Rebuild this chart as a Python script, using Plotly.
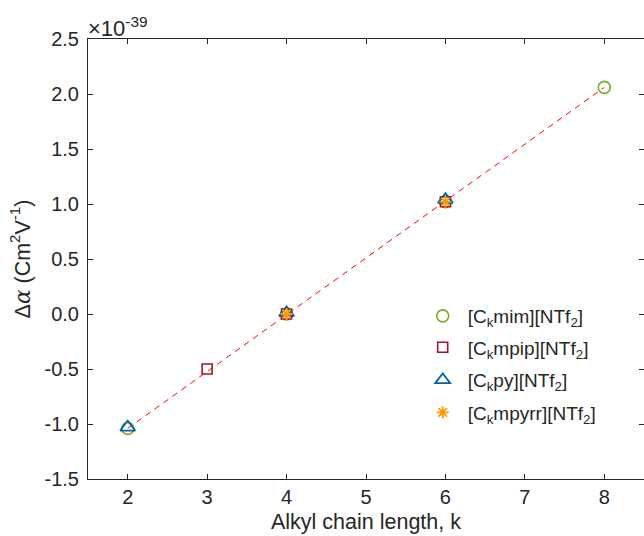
import plotly.graph_objects as go

# Data (units of 1e-39 C m^2 V^-1)
mim_k = [2, 4, 6, 8]
mim_y = [-1.04, 0.0, 1.02, 2.06]
mpip_k = [3, 4, 6]
mpip_y = [-0.50, 0.0, 1.02]
py_k = [2, 4, 6]
py_y = [-1.03, 0.01, 1.04]
mpyrr_k = [4, 6]
mpyrr_y = [0.0, 1.02]
fit_k = [2, 8]
fit_y = [-1.04, 2.06]

x_ticks = [2, 3, 4, 5, 6, 7, 8]
y_ticks = [-1.5, -1.0, -0.5, 0.0, 0.5, 1.0, 1.5, 2.0, 2.5]
y_ticktext = ["-1.5", "-1.0", "-0.5", "0.0", "0.5", "1.0", "1.5", "2.0", "2.5"]

names = ["[C<sub>k</sub>mim][NTf<sub>2</sub>]",
         "[C<sub>k</sub>mpip][NTf<sub>2</sub>]",
         "[C<sub>k</sub>py][NTf<sub>2</sub>]",
         "[C<sub>k</sub>mpyrr][NTf<sub>2</sub>]"]

AX = "#262626"
FONT = "Liberation Sans, Arial, sans-serif"

fig = go.Figure()
fig.add_trace(go.Scatter(x=fit_k, y=fit_y, mode="lines",
                         line=dict(color="#FF0000", dash="6px,5px", width=1),
                         showlegend=False, hoverinfo="skip"))
fig.add_trace(go.Scatter(x=mim_k, y=mim_y, mode="markers", name=names[0],
                         marker=dict(symbol="circle-open", size=12, color="#77AC30",
                                     line=dict(width=1.6)),
                         legend="legend"))
fig.add_trace(go.Scatter(x=mpip_k, y=mpip_y, mode="markers", name=names[1],
                         marker=dict(symbol="square-open", size=10, color="#A2142F",
                                     line=dict(width=1.6)),
                         legend="legend2"))
fig.add_trace(go.Scatter(x=py_k, y=py_y, mode="markers", name=names[2],
                         marker=dict(symbol="triangle-up-open", size=13, color="#0062B0",
                                     line=dict(width=1.8)),
                         legend="legend3"))
fig.add_trace(go.Scatter(x=mpyrr_k, y=mpyrr_y, mode="markers", name=names[3],
                         marker=dict(symbol="asterisk-open", size=10, color="#FF9900",
                                     line=dict(width=1.8)),
                         legend="legend4"))

leg_common = dict(xanchor="left", yanchor="middle", bgcolor="rgba(0,0,0,0)",
                  borderwidth=0, font=dict(family=FONT, size=19, color=AX),
                  itemwidth=40)
lx = 0.593
fig.update_layout(
    legend=dict(x=lx, y=0.3705, **leg_common),
    legend2=dict(x=lx, y=0.2990, **leg_common),
    legend3=dict(x=lx, y=0.2250, **leg_common),
    legend4=dict(x=lx, y=0.1510, **leg_common),
)

fig.update_layout(
    width=644, height=536,
    margin=dict(l=88, r=0, t=39, b=57, autoexpand=False),
    paper_bgcolor="white", plot_bgcolor="white",
    font=dict(family=FONT, size=19, color=AX),
    xaxis=dict(range=[1.5, 8.5], tickvals=x_ticks, ticks="inside", ticklen=5,
               tickcolor=AX, showline=True, linecolor=AX, linewidth=1,
               mirror="ticks", showgrid=False, zeroline=False, automargin=False,
               tickfont=dict(size=20, color=AX),
               title=dict(text="Alkyl chain length, k", font=dict(size=21.5, color=AX),
                          standoff=6)),
    yaxis=dict(range=[-1.5, 2.5], tickvals=y_ticks, ticktext=y_ticktext,
               ticks="inside", ticklen=5, tickcolor=AX, showline=True,
               linecolor=AX, linewidth=1, mirror="ticks", showgrid=False,
               zeroline=False, automargin=False, tickfont=dict(size=20, color=AX),
               ticklabelstandoff=4,
               title=dict(text="Δ<span style=\"font-family:'DejaVu Serif'\"><i>α</i></span> (Cm<sup>2</sup>V<sup>-1</sup>)",
                          font=dict(size=21.5, color=AX), standoff=8)),
    annotations=[dict(text="×10<sup>-39</sup>", xref="paper", yref="paper",
                      x=0, y=1, xanchor="left", yanchor="bottom", showarrow=False,
                      font=dict(size=22, color=AX), xshift=-2, yshift=-4)],
)

fig.write_html("out.html",
               config={"displayModeBar": False},
               post_script="document.body.style.margin='0';document.body.style.overflow='hidden';")
